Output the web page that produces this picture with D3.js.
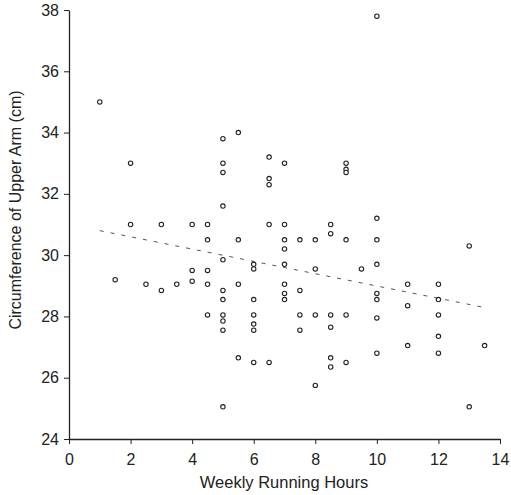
<!DOCTYPE html>
<html><head><meta charset="utf-8">
<script src="https://cdn.jsdelivr.net/npm/d3@7"></script>
<style>body{margin:0;background:#fff}svg{display:block}</style>
</head><body>
<svg id="c" width="511" height="495"></svg>
<script>
const hours = [1,2,2,1.5,2.5,3,3,3.5,4,4,4,4.5,4.5,4.5,4.5,4.5,
  5,5,5,5,5,5,5,5,5,5,5,
  5.5,5.5,5.5,5.5,
  6,6,6,6,6,6,6,
  6.5,6.5,6.5,6.5,6.5,
  7,7,7,7,7,7,7,7,
  7.5,7.5,7.5,7.5,
  8,8,8,8,
  8.5,8.5,8.5,8.5,8.5,8.5,
  9,9,9,9,9,9,
  9.5,
  10,10,10,10,10,10,10,10,
  11,11,11,
  12,12,12,12,12,
  13,13,13.5];
const circumference = [35,33,31,29.2,29.05,31,28.85,29.05,31,29.5,29.15,31,30.5,29.5,29.05,28.05,
  33.8,33,32.7,31.6,29.85,28.85,28.55,28.05,27.85,27.55,25.05,
  34,30.5,29.05,26.65,
  29.7,29.55,28.55,28.05,27.75,27.55,26.5,
  33.2,32.5,32.3,31,26.5,
  33,31,30.5,30.2,29.7,29.05,28.75,28.55,
  30.5,28.85,28.05,27.55,
  30.5,29.55,28.05,25.75,
  31,30.7,28.05,27.65,26.65,26.35,
  33,32.8,32.7,30.5,28.05,26.5,
  29.55,
  37.8,31.2,30.5,29.7,28.75,28.55,27.95,26.8,
  29.05,28.35,27.05,
  29.05,28.55,28.05,27.35,26.8,
  30.3,25.05,27.05];
const trendX = [1, 13.45];
const trendY = [30.8, 28.3];
const xTicks = [0,2,4,6,8,10,12,14];
const yTicks = [24,26,28,30,32,34,36,38];

const svg = d3.select("#c");
const x = d3.scaleLinear().domain([0,14]).range([69,500]);
const y = d3.scaleLinear().domain([24,38]).range([439,10]);
const font = "'Liberation Sans', Arial, sans-serif";

const gx = svg.append("g").attr("transform","translate(0,439)")
  .call(d3.axisBottom(x).tickValues(xTicks).tickSize(5).tickSizeOuter(0).tickPadding(10));
const gy = svg.append("g").attr("transform","translate(69,0)")
  .call(d3.axisLeft(y).tickValues(yTicks).tickSize(5).tickSizeOuter(0).tickPadding(5));
[gx,gy].forEach(g=>{
  g.select(".domain").attr("stroke","#222").attr("stroke-width",1.3);
  g.selectAll(".tick line").attr("stroke","#222").attr("stroke-width",1);
  g.selectAll(".tick text").attr("font-family",font).attr("font-size",16).attr("fill","#222");
});

svg.append("line")
  .attr("x1",x(trendX[0])).attr("y1",y(trendY[0]))
  .attr("x2",x(trendX[1])).attr("y2",y(trendY[1]))
  .attr("stroke","#555").attr("stroke-width",1).attr("stroke-dasharray","4,7");

svg.append("g").selectAll("circle").data(hours.map((h,i)=>[h,circumference[i]]))
  .join("circle")
  .attr("cx",d=>x(d[0])).attr("cy",d=>y(d[1])).attr("r",2.2)
  .attr("fill","#fff").attr("stroke","#222").attr("stroke-width",1.1);

svg.append("text").attr("x",284).attr("y",488).attr("text-anchor","middle")
  .attr("font-family",font).attr("font-size",16.5).attr("fill","#222")
  .text("Weekly Running Hours");
svg.append("text").attr("transform","translate(21,210) rotate(-90)").attr("text-anchor","middle")
  .attr("font-family",font).attr("font-size",16).attr("fill","#222")
  .text("Circumference of Upper Arm (cm)");
</script>
</body></html>
